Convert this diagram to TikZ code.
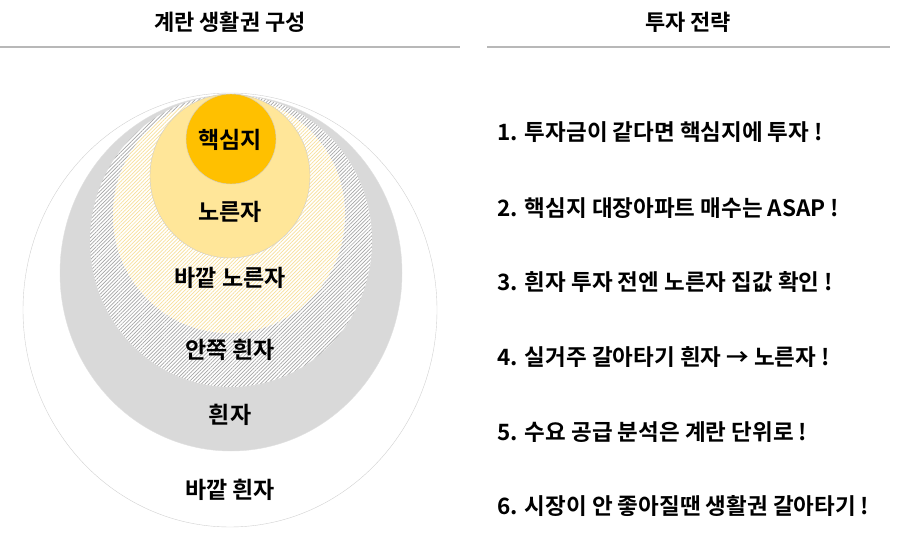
\documentclass[tikz,border=0pt]{standalone}
\usepackage{fontspec}
\setmainfont{Noto Sans CJK KR}[BoldFont={Noto Sans CJK KR Bold}]
\usetikzlibrary{patterns.meta}
\definecolor{core}{RGB}{255,192,0}
\definecolor{yolk}{RGB}{255,230,153}
\definecolor{hatchy}{RGB}{245,210,110}
\begin{document}
\begin{tikzpicture}[x=1pt,y=-1pt,
  lbl/.style={font=\bfseries\fontsize{23}{26}\selectfont,text=black},
  item/.style={font=\bfseries\fontsize{22.5}{26}\selectfont,anchor=west},
  ttl/.style={font=\bfseries\fontsize{22}{25}\selectfont},
  rule/.style={draw=black!28,line width=1.5pt}]
\useasboundingbox (0,0) rectangle (905,534);
\node[ttl] (t1) at (230,22) {계란 생활권 구성};
\node[ttl] (t2) at (688,22) {투자 전략};
\draw[rule] (0,47) -- (460,47);
\draw[rule] (487,47) -- (890,47);
% rings
\draw[black!18,fill=white] (230,310) ellipse [x radius=207,y radius=217];
\draw[black!12,fill=black!15] (231,273) ellipse [x radius=171,y radius=178];
\fill[white] (231,241) ellipse [x radius=141,y radius=146];
\fill[pattern={Lines[angle=45,distance=2.6pt,line width=0.7pt]},pattern color=black!35] (231,241) ellipse [x radius=141,y radius=146];
\fill[white] (229,215) ellipse [x radius=116,y radius=118];
\fill[pattern={Lines[angle=45,distance=2.6pt,line width=0.7pt]},pattern color=hatchy!70] (229,215) ellipse [x radius=116,y radius=118];
\draw[black!20,fill=yolk] (230,176) ellipse [x radius=80,y radius=82];
\draw[black!20,fill=core] (231,139) circle [radius=45];
\node[lbl] (a) at (230,140) {핵심지};
\node[lbl] (b) at (230,212) {노른자};
\node[lbl] (c) at (230,278) {바깥 노른자};
\node[lbl] (d) at (230,350) {안쪽 흰자};
\node[lbl] (e) at (230,415) {흰자};
\node[lbl] (f) at (230,490) {바깥 흰자};
\node[item] (i1) at (494,132) {1. 투자금이 같다면 핵심지에 투자 !};
\node[item] (i2) at (494,208) {2. 핵심지 대장아파트 매수는 ASAP !};
\node[item] (i3) at (494,282) {3. 흰자 투자 전엔 노른자 집값 확인 !};
\node[item] (i4) at (494,357) {4. 실거주 갈아타기 흰자 → 노른자 !};
\node[item] (i5) at (494,432) {5. 수요 공급 분석은 계란 단위로 !};
\node[item] (i6) at (494,506) {6. 시장이 안 좋아질땐 생활권 갈아타기 !};
\end{tikzpicture}
\end{document}
